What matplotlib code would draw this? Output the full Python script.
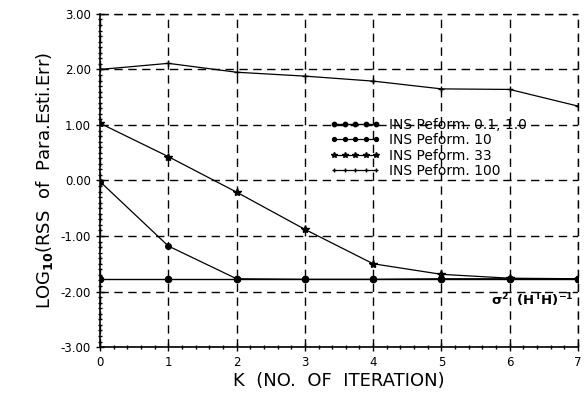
import matplotlib
matplotlib.use("Agg")
import matplotlib.pyplot as plt
from matplotlib.ticker import MultipleLocator

plt.rcParams['font.family'] = ['DejaVu Sans']
plt.rcParams['mathtext.fontset'] = 'dejavusans'

# --- datos ---
k = [0, 1, 2, 3, 4, 5, 6, 7]
ins_01_10 = [-1.78, -1.78, -1.78, -1.78, -1.78, -1.78, -1.78, -1.78]
ins_10 = [-0.02, -1.18, -1.77, -1.78, -1.78, -1.77, -1.77, -1.77]
ins_33 = [1.03, 0.43, -0.21, -0.88, -1.50, -1.69, -1.76, -1.77]
ins_100 = [2.00, 2.11, 1.95, 1.88, 1.79, 1.65, 1.64, 1.34]
labels = ['INS Peform. 0.1, 1.0', 'INS Peform. 10', 'INS Peform. 33', 'INS Peform. 100']
yticks = [-3, -2, -1, 0, 1, 2, 3]

fig = plt.figure(figsize=(5.85, 3.98), dpi=100)
ax = fig.add_axes([0.171, 0.128, 0.817, 0.837])

ax.plot(k, ins_01_10, marker='o', ms=4.5, color='black', lw=1.0, label=labels[0])
ax.plot(k, ins_10, marker='o', ms=4, mfc='black', color='black', lw=0.9, label=labels[1])
ax.plot(k, ins_33, marker='*', ms=6, color='black', lw=0.9, label=labels[2])
ax.plot(k, ins_100, marker='+', ms=4, mew=1.0, color='black', lw=0.9, label=labels[3])

ax.set_xlim(0, 7)
ax.set_ylim(-3, 3)
ax.set_xticks(k)
ax.set_yticks(yticks)
ax.set_yticklabels([f'{v:.2f}' for v in yticks])
ax.xaxis.set_minor_locator(MultipleLocator(0.2))
ax.yaxis.set_minor_locator(MultipleLocator(0.1))
ax.tick_params(axis='both', which='both', direction='inout', labelsize=8.5, width=1.0)
ax.tick_params(which='major', length=6)
ax.tick_params(which='minor', length=3)

for side in ['top', 'right']:
    ax.spines[side].set_visible(False)
for side in ['left', 'bottom']:
    ax.spines[side].set_linewidth(1.2)

ax.grid(True, which='major', linestyle=(0, (6, 4)), color='black', linewidth=1.0)
# bordes superior y derecho discontinuos
ax.axhline(3, linestyle=(0, (6, 4)), color='black', linewidth=1.0, clip_on=False)
ax.axvline(7, linestyle=(0, (6, 4)), color='black', linewidth=1.0, clip_on=False)

ax.set_xlabel('K  (NO.  OF  ITERATION)', fontsize=13, labelpad=2)
ax.set_ylabel(r'LOG$_{\mathbf{10}}$(RSS  of  Para.Esti.Err)', fontsize=13, labelpad=4)

ax.text(5.72, -2.15, r'$\mathbf{\sigma^2\ \ (H^TH)^{-1}}$', fontsize=9.5, fontweight='bold', va='center')

leg = ax.legend(loc='upper left', bbox_to_anchor=(0.47, 0.705), frameon=False, numpoints=5,
                handlelength=3.6, handletextpad=0.6, labelspacing=0.1, fontsize=10,
                markerscale=0.7, borderaxespad=0)

fig.savefig('out.png', dpi=100)
